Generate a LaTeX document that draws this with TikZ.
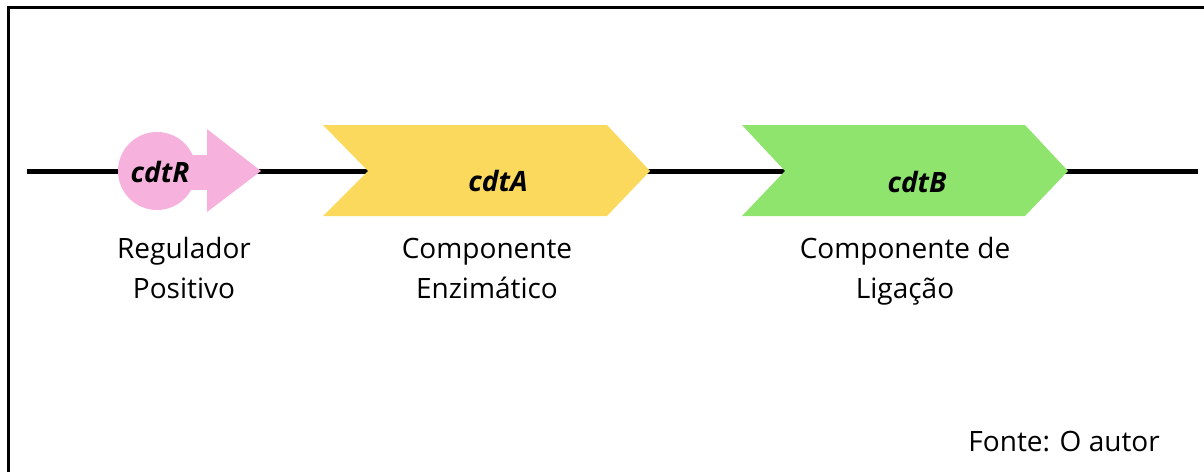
\documentclass[tikz,border=0pt]{standalone}
\usepackage{fontspec}
\setmainfont{Open Sans}
\definecolor{rpink}{HTML}{F6B1DC}
\definecolor{ayellow}{HTML}{FBD95C}
\definecolor{bgreen}{HTML}{8EE46C}
\tikzset{
  gene/.style={font=\fontsize{28}{32}\selectfont\bfseries\itshape, inner sep=0pt, anchor=base},
  desc/.style={font=\fontsize{28}{32}\selectfont, inner sep=0pt, anchor=base},
  backbone/.style={line width=5pt, black},
  frameline/.style={line width=3pt, black},
}
\begin{document}
\begin{tikzpicture}[x=1pt,y=-1pt]
\useasboundingbox (0,0) rectangle (1204,472);
% frame
\draw[frameline] (8,472) -- (8,7) -- (1204,7);
% backbone
\coordinate (L) at (27,171);
\coordinate (Rend) at (1198,171);
\draw[backbone] (L) -- (Rend);
% cdtR
\fill[rpink] (157,171) circle (39);
\fill[rpink] (185,155) rectangle (208,190);
\fill[rpink] (207,129) -- (261,171) -- (207,212) -- cycle;
\node[gene] (cdtR) at (160,182) {cdtR};
% cdtA
\fill[ayellow] (323,125) -- (607,125) -- (650,171) -- (607,216) -- (323,216) -- (368,171) -- cycle;
\node[gene] (cdtA) at (498,191) {cdtA};
% cdtB
\fill[bgreen] (742,125) -- (1025,125) -- (1068,171) -- (1025,216) -- (742,216) -- (785,171) -- cycle;
\node[gene] (cdtB) at (917,192) {cdtB};
% descriptions
\node[desc] (dR1) at (184,258) {Regulador};
\node[desc] (dR2) at (184,298) {Positivo};
\node[desc] (dA1) at (487,258) {Componente};
\node[desc] (dA2) at (487,298) {Enzimático};
\node[desc] (dB1) at (905,258) {Componente de};
\node[desc] (dB2) at (905,298) {Ligação};
\node[desc, anchor=base east] (src) at (1160,451) {Fonte: O autor};
\end{tikzpicture}
\end{document}
